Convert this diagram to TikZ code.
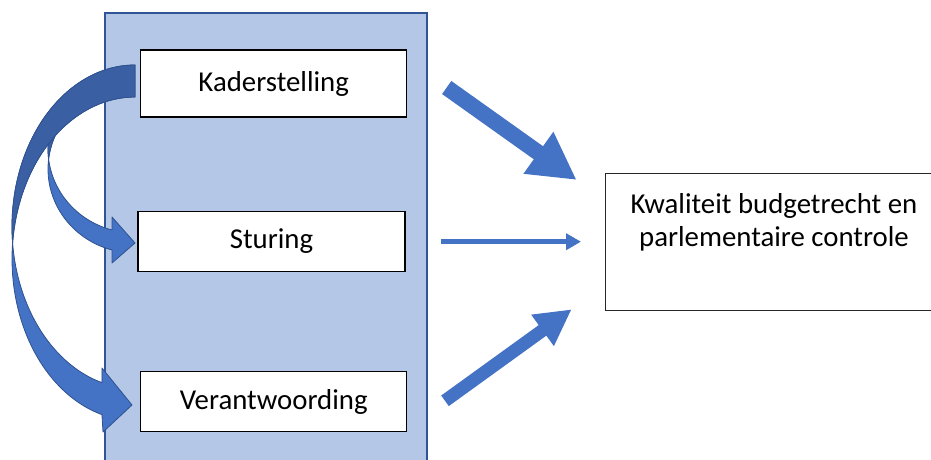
\documentclass[tikz,border=0pt]{standalone}
\usepackage{fontspec}
\setmainfont{Carlito}
\usetikzlibrary{arrows.meta}
\definecolor{panelfill}{HTML}{B4C7E7}
\definecolor{paneledge}{HTML}{2F5597}
\definecolor{arrowblue}{HTML}{4472C4}
\definecolor{arrowdark}{HTML}{3A5FA3}
\definecolor{arrowedge}{HTML}{2F528F}
\definecolor{boxedge}{HTML}{262626}
\begin{document}
\begin{tikzpicture}[x=1pt,y=-1pt,
  stepbox/.style={draw=black, line width=1.1pt, fill=white, inner sep=0pt,
    minimum width=266pt, minimum height=60pt, font=\fontsize{28.8}{33}\selectfont},
  resultbox/.style={draw=boxedge, line width=1pt, fill=white, inner sep=0pt,
    font=\fontsize{28.8}{33}\selectfont},
  blockarrow/.style={draw=arrowblue, line cap=butt},
  bandlight/.style={fill=arrowblue, draw=arrowedge, line width=0.8pt, line join=round},
  banddark/.style={fill=arrowdark, draw=arrowedge, line width=0.8pt, line join=round}]
\useasboundingbox (0,0) rectangle (931,460);
\clip (0,0) rectangle (931,460);

% panel
\path[fill=panelfill, draw=paneledge, line width=2pt] (104.5,13) rectangle (427,475);

% boxes
\node[stepbox, minimum height=67pt] (kader) at (273.7,83.5) {Kaderstelling};
\node[stepbox, minimum width=267pt] (sturing) at (271.5,241.3) {Sturing};
\node[stepbox] (verant) at (273.7,401.7) {Verantwoording};
\node[resultbox] (kwal) at (774,242.3)
  {\parbox[c][136.7pt][t]{338pt}{\centering\rule{0pt}{40pt}Kwaliteit budgetrecht en\\ parlementaire controle}};

% small curved arrow (Kaderstelling -> Sturing)
\path[bandlight] plot[domain=230:105.3, samples=60, variable=\t] ({135+87*cos(\t)},{149+84*sin(\t)})
  -- (112,217) -- (135,243) -- (112,263)
  -- plot[domain=105.3:230, samples=60, variable=\t] ({135+87*cos(\t)},{169+84*sin(\t)}) -- cycle;
\path[banddark] plot[domain=230:173.16, samples=40, variable=\t] ({135+87*cos(\t)},{149+84*sin(\t)})
  -- plot[domain=186.84:230, samples=40, variable=\t] ({135+87*cos(\t)},{169+84*sin(\t)}) -- cycle;

% big curved arrow (Kaderstelling -> Verantwoording)
\path[bandlight] plot[domain=270:105.6, samples=80, variable=\t] ({135+123*cos(\t)},{226.8+161.8*sin(\t)})
  -- (102,368) -- (132,405) -- (103,432)
  -- plot[domain=105.6:270, samples=80, variable=\t] ({135+123*cos(\t)},{258.8+161.8*sin(\t)}) -- cycle;
\path[banddark] plot[domain=270:174.32, samples=60, variable=\t] ({135+123*cos(\t)},{226.8+161.8*sin(\t)})
  -- plot[domain=185.68:270, samples=60, variable=\t] ({135+123*cos(\t)},{258.8+161.8*sin(\t)}) -- cycle;

% straight arrows towards the result box
\coordinate (t1) at (446.7,87.5);  \coordinate (h1) at (576.7,180);
\coordinate (t2) at (440.7,241.7); \coordinate (h2) at (581,241.7);
\coordinate (t3) at (445,400.8);   \coordinate (h3) at (571.7,309.3);
\draw[blockarrow, line width=16pt, -{Triangle[width=48pt,length=47pt]}] (t1) -- (h1);
\draw[blockarrow, line width=4.7pt, -{Triangle[width=16pt,length=15pt]}] (t2) -- (h2);
\draw[blockarrow, line width=13pt, -{Triangle[width=36pt,length=36pt]}] (t3) -- (h3);
\end{tikzpicture}
\end{document}
